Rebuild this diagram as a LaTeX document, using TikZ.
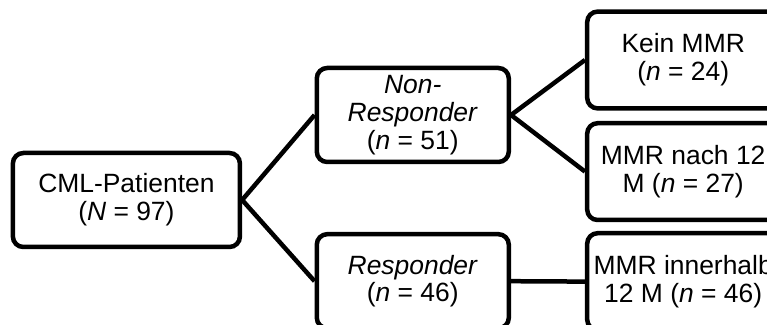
\documentclass[tikz,border=0pt]{standalone}
\usepackage{fontspec}
\setmainfont{Liberation Sans}
\usetikzlibrary{positioning}
\tikzset{box/.style={draw,line width=3.2pt,rounded corners=.26cm,minimum width=4.8cm,
 minimum height=2.35cm,inner sep=0pt,align=center},
 link/.style={line width=3.2pt},
 every node/.style={font=\fontsize{18.8}{19.8}\selectfont}}

\begin{document}
\begin{tikzpicture}
\useasboundingbox (0,0) rectangle (19.175,-8.125);
\node[box,minimum width=5.675cm] (pat) at (3.16,-5.0) {CML-Patienten\\(\textit{N} = 97)};
\node[box] (nonresp) at (10.32,-2.875) {\textit{Non-}\\\textit{Responder}\\(\textit{n} = 51)};
\node[box] (resp) at (10.32,-7.03) {\textit{Responder}\\(\textit{n} = 46)};
\node[box,minimum height=2.42cm] (keinmmr) at (17.08,-1.5) {Kein MMR\\(\textit{n} = 24)};
\node[box,minimum height=2.42cm] (mmrnach) at (17.08,-4.29) {MMR nach 12\\M (\textit{n} = 27)};
\node[box,minimum height=2.42cm] (mmrinner) at (17.08,-7.04) {MMR innerhalb\\12 M (\textit{n} = 46)};
\draw[link] (pat.east) -- (nonresp.west);
\draw[link] (pat.east) -- (resp.west);
\draw[link] (nonresp.east) -- (keinmmr.west);
\draw[link] (nonresp.east) -- (mmrnach.west);
\draw[link] (resp.east) -- (mmrinner.west);
\end{tikzpicture}
\end{document}
